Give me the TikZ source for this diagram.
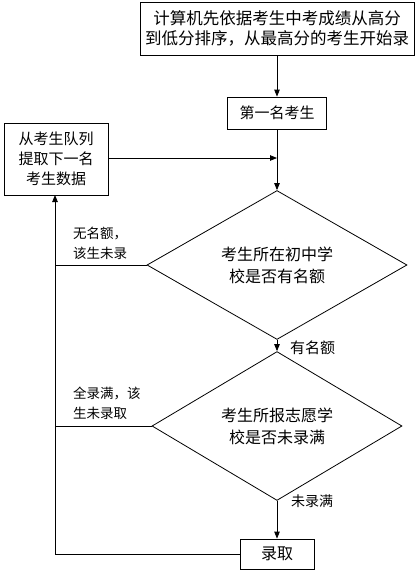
\documentclass[tikz,border=0pt]{standalone}
\usepackage{fontspec}
\setmainfont{Noto Sans CJK SC}
\usetikzlibrary{shapes.geometric,arrows.meta}
\begin{document}
\begin{tikzpicture}[x=1pt,y=-1pt,
  every node/.style={inner sep=0pt,font=\fontsize{15}{20}\selectfont},
  box/.style={draw,line width=0.8pt,align=center},
  dia/.style={draw,diamond,line width=0.8pt,align=center,inner sep=0pt},
  lbl/.style={align=left,anchor=west,font=\fontsize{13.5}{20}\selectfont},
  line/.style={line width=0.8pt},
  arr/.style={line width=0.8pt,-{Triangle[length=7pt,width=5.5pt]}}]
\useasboundingbox (0,0) rectangle (415,573);
\node[box,minimum width=274pt,minimum height=53pt,font=\fontsize{16.5}{20}\selectfont] (top) at (277,28.5) {计算机先依据考生中考成绩从高分\\到低分排序，从最高分的考生开始录};
\node[box,minimum width=99pt,minimum height=32pt] (first) at (277,113) {第一名考生};
\node[box,minimum width=104pt,minimum height=72pt] (left) at (56,159) {从考生队列\\提取下一名\\考生数据};
\node[dia,minimum width=260pt,minimum height=96pt,font=\fontsize{16}{22}\selectfont] (d1) at (277,265) {考生所在初中学\\校是否有名额};
\node[dia,minimum width=250pt,minimum height=88pt,font=\fontsize{16}{22}\selectfont] (d2) at (277,426) {考生所报志愿学\\校是否未录满};
\node[box,minimum width=74pt,minimum height=30pt,font=\fontsize{16}{20}\selectfont] (lq) at (277,554) {录取};
\coordinate (j) at (277,158);
\coordinate (c1) at (55,265);
\coordinate (c2) at (55,426);
\coordinate (c3) at (55,554);
\coordinate (c4) at (55,195);
\draw[arr] (top) -- (first);
\draw[line] (first) -- (j);
\draw[arr] (j) -- (d1.north);
\draw[arr] (left.east |- j) -- (j);
\draw[arr] (d1.south) -- (d2.north);
\draw[arr] (d2.south) -- (lq.north);
\draw[line] (d1.west) -- (c1);
\draw[line] (d2.west) -- (c2);
\draw[arr] (lq.west) -- (c3) -- (c4);
\node[lbl,font=\fontsize{15}{20}\selectfont] (y1) at (290,348) {有名额};
\node[lbl,font=\fontsize{14}{20}\selectfont] (y2) at (291,501) {未录满};
\node[lbl] (l1) at (73,243) {无名额，\\该生未录};
\node[lbl] (l2) at (73,403) {全录满，该\\生未录取};
\end{tikzpicture}
\end{document}
